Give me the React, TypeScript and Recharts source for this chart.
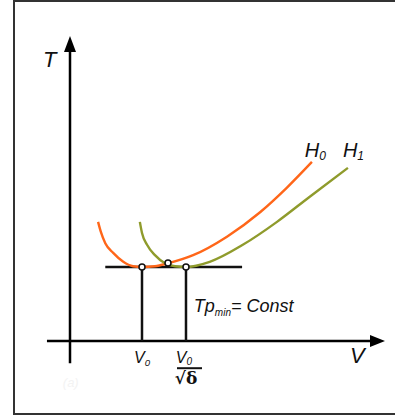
import React from 'react';
import { ComposedChart, Line, XAxis, YAxis, ReferenceLine, ReferenceDot } from 'recharts';

// H0 and H1 curves: V in units of V0, T in units of Tp_min
const H0_V = [0.39, 0.43, 0.49, 0.6, 0.74, 0.875, 1.0, 1.18, 1.36, 1.71, 2.18, 2.64, 3.01, 3.36];
const H0_T = [1.61, 1.47, 1.32, 1.19, 1.07, 1.01, 1.0, 1.01, 1.05, 1.16, 1.41, 1.74, 2.07, 2.42];
const H1_V = [0.97, 1.0, 1.07, 1.18, 1.32, 1.46, 1.61, 1.94, 2.4, 2.875, 3.33, 3.86];
const H1_T = [1.61, 1.46, 1.3, 1.16, 1.05, 1.01, 1.0, 1.07, 1.3, 1.61, 1.95, 2.34];

const V_MIN0 = 1.0;
const V_MIN1 = 1.611;
const T_MIN = 1.0;
const CROSS = { v: 1.361, t: 1.054 };

const h0 = H0_V.map((v, i) => ({ v, t: H0_T[i] }));
const h1 = H1_V.map((v, i) => ({ v, t: H1_T[i] }));

const ORANGE = '#ff6619';
const OLIVE = '#8f9b2c';
const FONT = '"Liberation Sans", Arial, sans-serif';

const arrowRight = (p: any) => (
  <polygon points={`${p.cx},${p.cy} ${p.cx - 15},${p.cy - 6} ${p.cx - 15},${p.cy + 6}`} fill="#000" />
);
const arrowUp = (p: any) => (
  <polygon points={`${p.cx},${p.cy} ${p.cx - 6},${p.cy + 16} ${p.cx + 6},${p.cy + 16}`} fill="#000" />
);

const italic = { fontFamily: FONT, fontStyle: 'italic' as const, fill: '#111' };

const symbol = (main: string, sub: string, size: number, anchor: 'start' | 'middle' = 'start') => (p: any) => (
  <text x={p.cx} y={p.cy} fontSize={size} textAnchor={anchor} {...italic}>
    {main}
    <tspan fontSize={size * 0.6} dy={size * 0.15}>{sub}</tspan>
  </text>
);

const constLabel = (p: any) => (
  <text x={p.cx} y={p.cy} fontSize={18} {...italic}>
    Tp
    <tspan fontSize={10} dy={4}>min</tspan>
    <tspan dy={-4}>= Const</tspan>
  </text>
);

const fraction = (p: any) => (
  <g>
    <text x={p.cx - 2} y={p.cy} fontSize={16} textAnchor="middle" {...italic}>
      V<tspan fontSize={10} dy={2}>0</tspan>
    </text>
    <line x1={p.cx - 9} x2={p.cx + 16} y1={p.cy + 5} y2={p.cy + 5} stroke="#111" strokeWidth={2} />
    <text x={p.cx} y={p.cy + 21} fontSize={17} fontWeight="bold" textAnchor="middle" fontFamily="'DejaVu Serif', serif" fill="#111">
      √δ
    </text>
  </g>
);

const plain = (s: string, size: number, color = '#111') => (p: any) => (
  <text x={p.cx} y={p.cy} fontSize={size} {...italic} fill={color}>{s}</text>
);

const ring = { r: 3, fill: '#fff', stroke: '#111', strokeWidth: 1.5 };

export default function App() {
  return (
    <div style={{ position: 'absolute', left: 0, top: 0, width: 395, height: 416, background: '#fff' }}>
      <div
        style={{
          position: 'absolute', left: 13, top: 0, width: 382, height: 411,
          borderTop: '2px solid #333', borderLeft: '2px solid #333', borderBottom: '2px solid #333',
        }}
      />
      <div style={{ position: 'absolute', left: 0, top: 0 }}>
        <ComposedChart width={395} height={416} margin={{ top: 8, right: 1, bottom: 1, left: 34 }}>
          <XAxis type="number" dataKey="v" domain={[-0.5, 4.5]} hide allowDataOverflow />
          <YAxis type="number" dataKey="t" domain={[-1, 4.5]} hide allowDataOverflow />

          {/* axes */}
          <ReferenceLine segment={[{ x: -0.32, y: 0 }, { x: 4.2, y: 0 }]} stroke="#000" strokeWidth={2.5} />
          <ReferenceLine segment={[{ x: 0, y: -0.3 }, { x: 0, y: 3.95 }]} stroke="#000" strokeWidth={2.5} />
          <ReferenceDot x={4.375} y={0} shape={arrowRight} />
          <ReferenceDot x={0} y={4.12} shape={arrowUp} />

          {/* Tp_min = const level and the two minimum points */}
          <ReferenceLine segment={[{ x: 0.49, y: T_MIN }, { x: 2.39, y: T_MIN }]} stroke="#111" strokeWidth={2.5} />
          <ReferenceLine segment={[{ x: V_MIN0, y: 0 }, { x: V_MIN0, y: T_MIN }]} stroke="#111" strokeWidth={2.5} />
          <ReferenceLine segment={[{ x: V_MIN1, y: 0 }, { x: V_MIN1, y: T_MIN }]} stroke="#111" strokeWidth={2.5} />

          <Line data={h0} dataKey="t" type="monotone" stroke={ORANGE} strokeWidth={2.4} dot={false} isAnimationActive={false} />
          <Line data={h1} dataKey="t" type="monotone" stroke={OLIVE} strokeWidth={2.4} dot={false} isAnimationActive={false} />

          <ReferenceDot x={V_MIN0} y={T_MIN} {...ring} />
          <ReferenceDot x={V_MIN1} y={T_MIN} {...ring} />
          <ReferenceDot x={CROSS.v} y={CROSS.t} {...ring} />

          {/* labels */}
          <ReferenceDot x={-0.375} y={3.7} shape={plain('T', 22)} />
          <ReferenceDot x={3.89} y={-0.3} shape={plain('V', 22)} />
          <ReferenceDot x={3.26} y={2.49} shape={symbol('H', '0', 20)} />
          <ReferenceDot x={3.79} y={2.49} shape={symbol('H', '1', 20)} />
          <ReferenceDot x={1.72} y={0.39} shape={constLabel} />
          <ReferenceDot x={V_MIN0} y={-0.3} shape={symbol('V', '0', 16, 'middle')} />
          <ReferenceDot x={V_MIN1} y={-0.3} shape={fraction} />
          <ReferenceDot x={-0.1} y={-0.62} shape={plain('(a)', 13, '#f3f3f3')} />
        </ComposedChart>
      </div>
    </div>
  );
}
